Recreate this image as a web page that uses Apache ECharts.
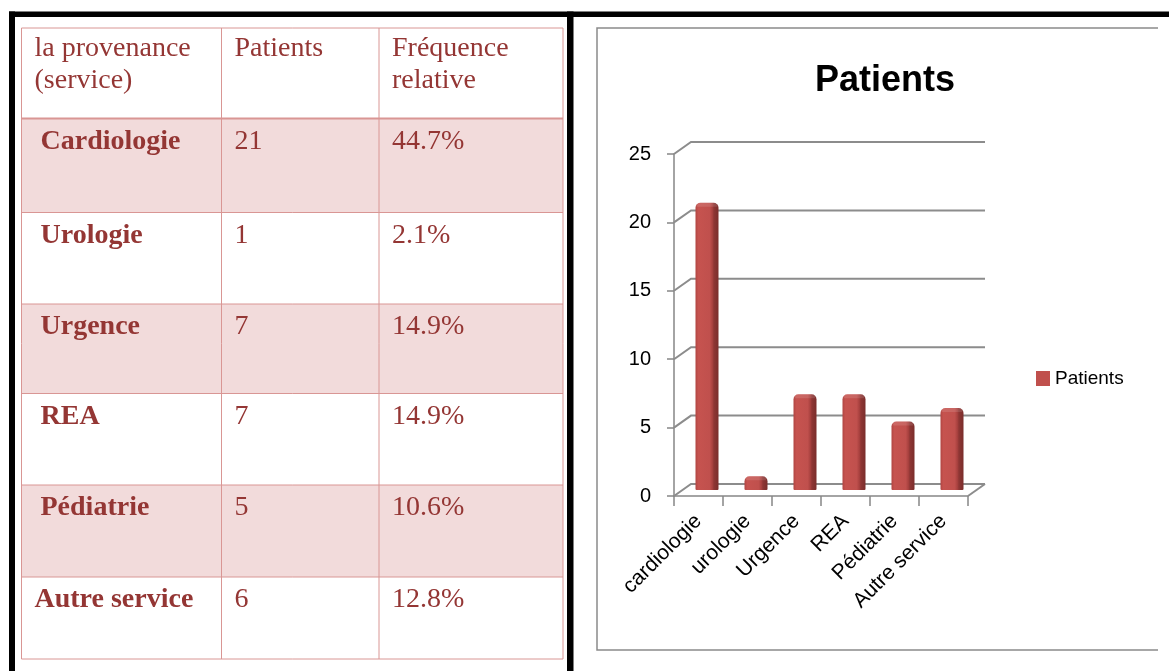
<!DOCTYPE html>
<html>
<head>
<meta charset="utf-8">
<script src="https://cdn.jsdelivr.net/npm/echarts@6/dist/echarts.min.js"></script>
<style>
html,body{margin:0;padding:0;background:#fff;}
#main{width:1169px;height:671px;}
</style>
</head>
<body>
<div id="main"></div>
<script>
// ---- data ----
const tableHeaders = ['la provenance\n(service)', 'Patients', 'Fréquence\nrelative'];
const tableServices = ['Cardiologie', 'Urologie', 'Urgence', 'REA', 'Pédiatrie', 'Autre service'];
const frequencies = ['44.7%', '2.1%', '14.9%', '14.9%', '10.6%', '12.8%'];
const categories = ['cardiologie', 'urologie', 'Urgence', 'REA', 'Pédiatrie', 'Autre service'];
const patients = [21, 1, 7, 7, 5, 6];
const yTicks = [0, 5, 10, 15, 20, 25];
const seriesName = 'Patients';
const chartTitle = 'Patients';

// ---- layout ----
const colX = [21.5, 221.5, 379, 563];
const rowY = [28, 118.5, 212.5, 304, 393.5, 485, 577, 659];
const TXT = '#943634';
const BORDER = '#d99694';
const PINK = '#f2dbdb';
const DX = 17, DY = -12;

const chart = echarts.init(document.getElementById('main'));

const graphics = [];
// row fills
for (let r = 0; r < tableServices.length; r++) {
  if (r % 2 === 0) {
    graphics.push({type:'rect', silent:true, z:0,
      shape:{x:colX[0], y:rowY[r+1], width:colX[3]-colX[0], height:rowY[r+2]-rowY[r+1]},
      style:{fill:PINK}});
  }
}
// horizontal borders
rowY.forEach((y, k) => {
  graphics.push({type:'line', silent:true, z:1,
    shape:{x1:colX[0], y1:y, x2:colX[3], y2:y},
    style:{stroke:BORDER, lineWidth:(k === 1 ? 2 : 1)}});
});
// vertical borders
colX.forEach(x => {
  graphics.push({type:'line', silent:true, z:1,
    shape:{x1:x, y1:rowY[0], x2:x, y2:rowY[rowY.length-1]},
    style:{stroke:BORDER, lineWidth:1}});
});
// header text
tableHeaders.forEach((h, c) => {
  graphics.push({type:'text', silent:true, z:2, x: colX[c] + 13, y: rowY[0] + 5,
    style:{text:h, fill:TXT, font:'28px "Liberation Serif"', lineHeight:32, verticalAlign:'top'}});
});
// body text
tableServices.forEach((s, r) => {
  const y = rowY[r+1] + 7;
  graphics.push({type:'text', silent:true, z:2, x: colX[0] + (s.length > 11 ? 13 : 19), y: y,
    style:{text:s, fill:TXT, font:'bold 28px "Liberation Serif"', lineHeight:32, verticalAlign:'top'}});
  graphics.push({type:'text', silent:true, z:2, x: colX[1] + 13, y: y,
    style:{text:String(patients[r]), fill:TXT, font:'28px "Liberation Serif"', lineHeight:32, verticalAlign:'top'}});
  graphics.push({type:'text', silent:true, z:2, x: colX[2] + 13, y: y,
    style:{text:frequencies[r], fill:TXT, font:'28px "Liberation Serif"', lineHeight:32, verticalAlign:'top'}});
});
// black frame lines
graphics.push({type:'rect', silent:true, z:3, shape:{x:9, y:11.5, width:1160, height:5.5}, style:{fill:'#000'}});
graphics.push({type:'rect', silent:true, z:3, shape:{x:9, y:11.5, width:6, height:660}, style:{fill:'#000'}});
graphics.push({type:'rect', silent:true, z:3, shape:{x:567, y:11.5, width:6.5, height:660}, style:{fill:'#000'}});
// chart area border
graphics.push({type:'polyline', silent:true, z:1,
  shape:{points:[[1158,28],[597,28],[597,650],[1158,650]]},
  style:{stroke:'#8a8a8a', lineWidth:1.5, fill:null}});

const barGradient = new echarts.graphic.LinearGradient(0, 0, 1, 0, [
  {offset:0, color:'#b04542'},
  {offset:0.12, color:'#c6534f'},
  {offset:0.62, color:'#c0504d'},
  {offset:0.74, color:'#a6403e'},
  {offset:0.8, color:'#8e3634'},
  {offset:1, color:'#7a2d2b'}
]);

const option = {
  animation: false,
  backgroundColor: '#fff',
  textStyle: {fontFamily: '"Liberation Sans", Arial, sans-serif'},
  title: {
    text: chartTitle, left: 880, top: 58, textAlign: 'center',
    textStyle: {fontSize: 36, fontWeight: 'bold', color: '#000', fontFamily: '"Liberation Sans", Arial, sans-serif'}
  },
  legend: {
    data: [seriesName], left: 1031, top: 364, orient: 'vertical',
    icon: 'rect', itemWidth: 14, itemHeight: 15, itemGap: 5,
    textStyle: {fontSize: 19, color: '#000'}
  },
  grid: {left: 674, top: 154, width: 294, height: 342, containLabel: false},
  xAxis: {
    type: 'category', data: categories,
    axisLine: {show: true, lineStyle: {color: '#868686', width: 1.5}},
    axisTick: {show: true, length: 10, interval: 0, lineStyle: {color: '#868686', width: 1.5}},
    axisLabel: {rotate: 45, interval: 0, fontSize: 21, color: '#000', margin: 22},
    splitLine: {show: false}
  },
  yAxis: {
    type: 'value', min: 0, max: 25, interval: 5,
    axisLine: {show: true, lineStyle: {color: '#868686', width: 1.5}},
    axisTick: {show: true, length: 7, lineStyle: {color: '#868686', width: 1.5}},
    axisLabel: {fontSize: 20, color: '#000', margin: 23},
    splitLine: {show: false}
  },
  graphic: graphics,
  series: [
    {
      type: 'custom', name: 'walls', clip: false, silent: true, z: 1,
      data: yTicks.map(v => [0, v]),
      renderItem: function (params, api) {
        const v = api.value(1);
        const y = api.coord([0, v])[1];
        const cs = params.coordSys;
        const x0 = cs.x, x1 = cs.x + cs.width;
        const children = [{
          type: 'polyline',
          shape: {points: [[x0, y], [x0 + DX, y + DY], [x1 + DX, y + DY]]},
          style: {stroke: '#8c8c8c', lineWidth: 2, fill: null}
        }];
        if (v === 0) {
          children.push({type: 'line', shape: {x1: x1, y1: y, x2: x1 + DX, y2: y + DY},
            style: {stroke: '#8c8c8c', lineWidth: 2}});
        }
        return {type: 'group', children: children};
      }
    },
    {
      type: 'custom', name: seriesName, clip: false, z: 3,
      itemStyle: {color: '#c0504d'},
      data: patients.map((v, i) => [i, v]),
      renderItem: function (params, api) {
        const i = api.value(0), v = api.value(1);
        const top = api.coord([i, v]);
        const base = api.coord([i, 0]);
        const cx = top[0] + DX / 2;
        const yt = top[1] + DY / 2;
        const yb = base[1] + DY / 2;
        const w = 23;
        const left = cx - w / 2;
        return {
          type: 'group',
          children: [
            {type: 'rect', shape: {x: left, y: yt, width: w, height: yb - yt, r: [5, 5, 1, 1]},
              style: {fill: barGradient}},
            {type: 'rect', shape: {x: left + 1, y: yt, width: w - 2, height: 4, r: [4, 4, 0, 0]},
              style: {fill: 'rgba(255,255,255,0.12)'}}
          ]
        };
      }
    }
  ]
};
chart.setOption(option);
</script>
</body>
</html>
